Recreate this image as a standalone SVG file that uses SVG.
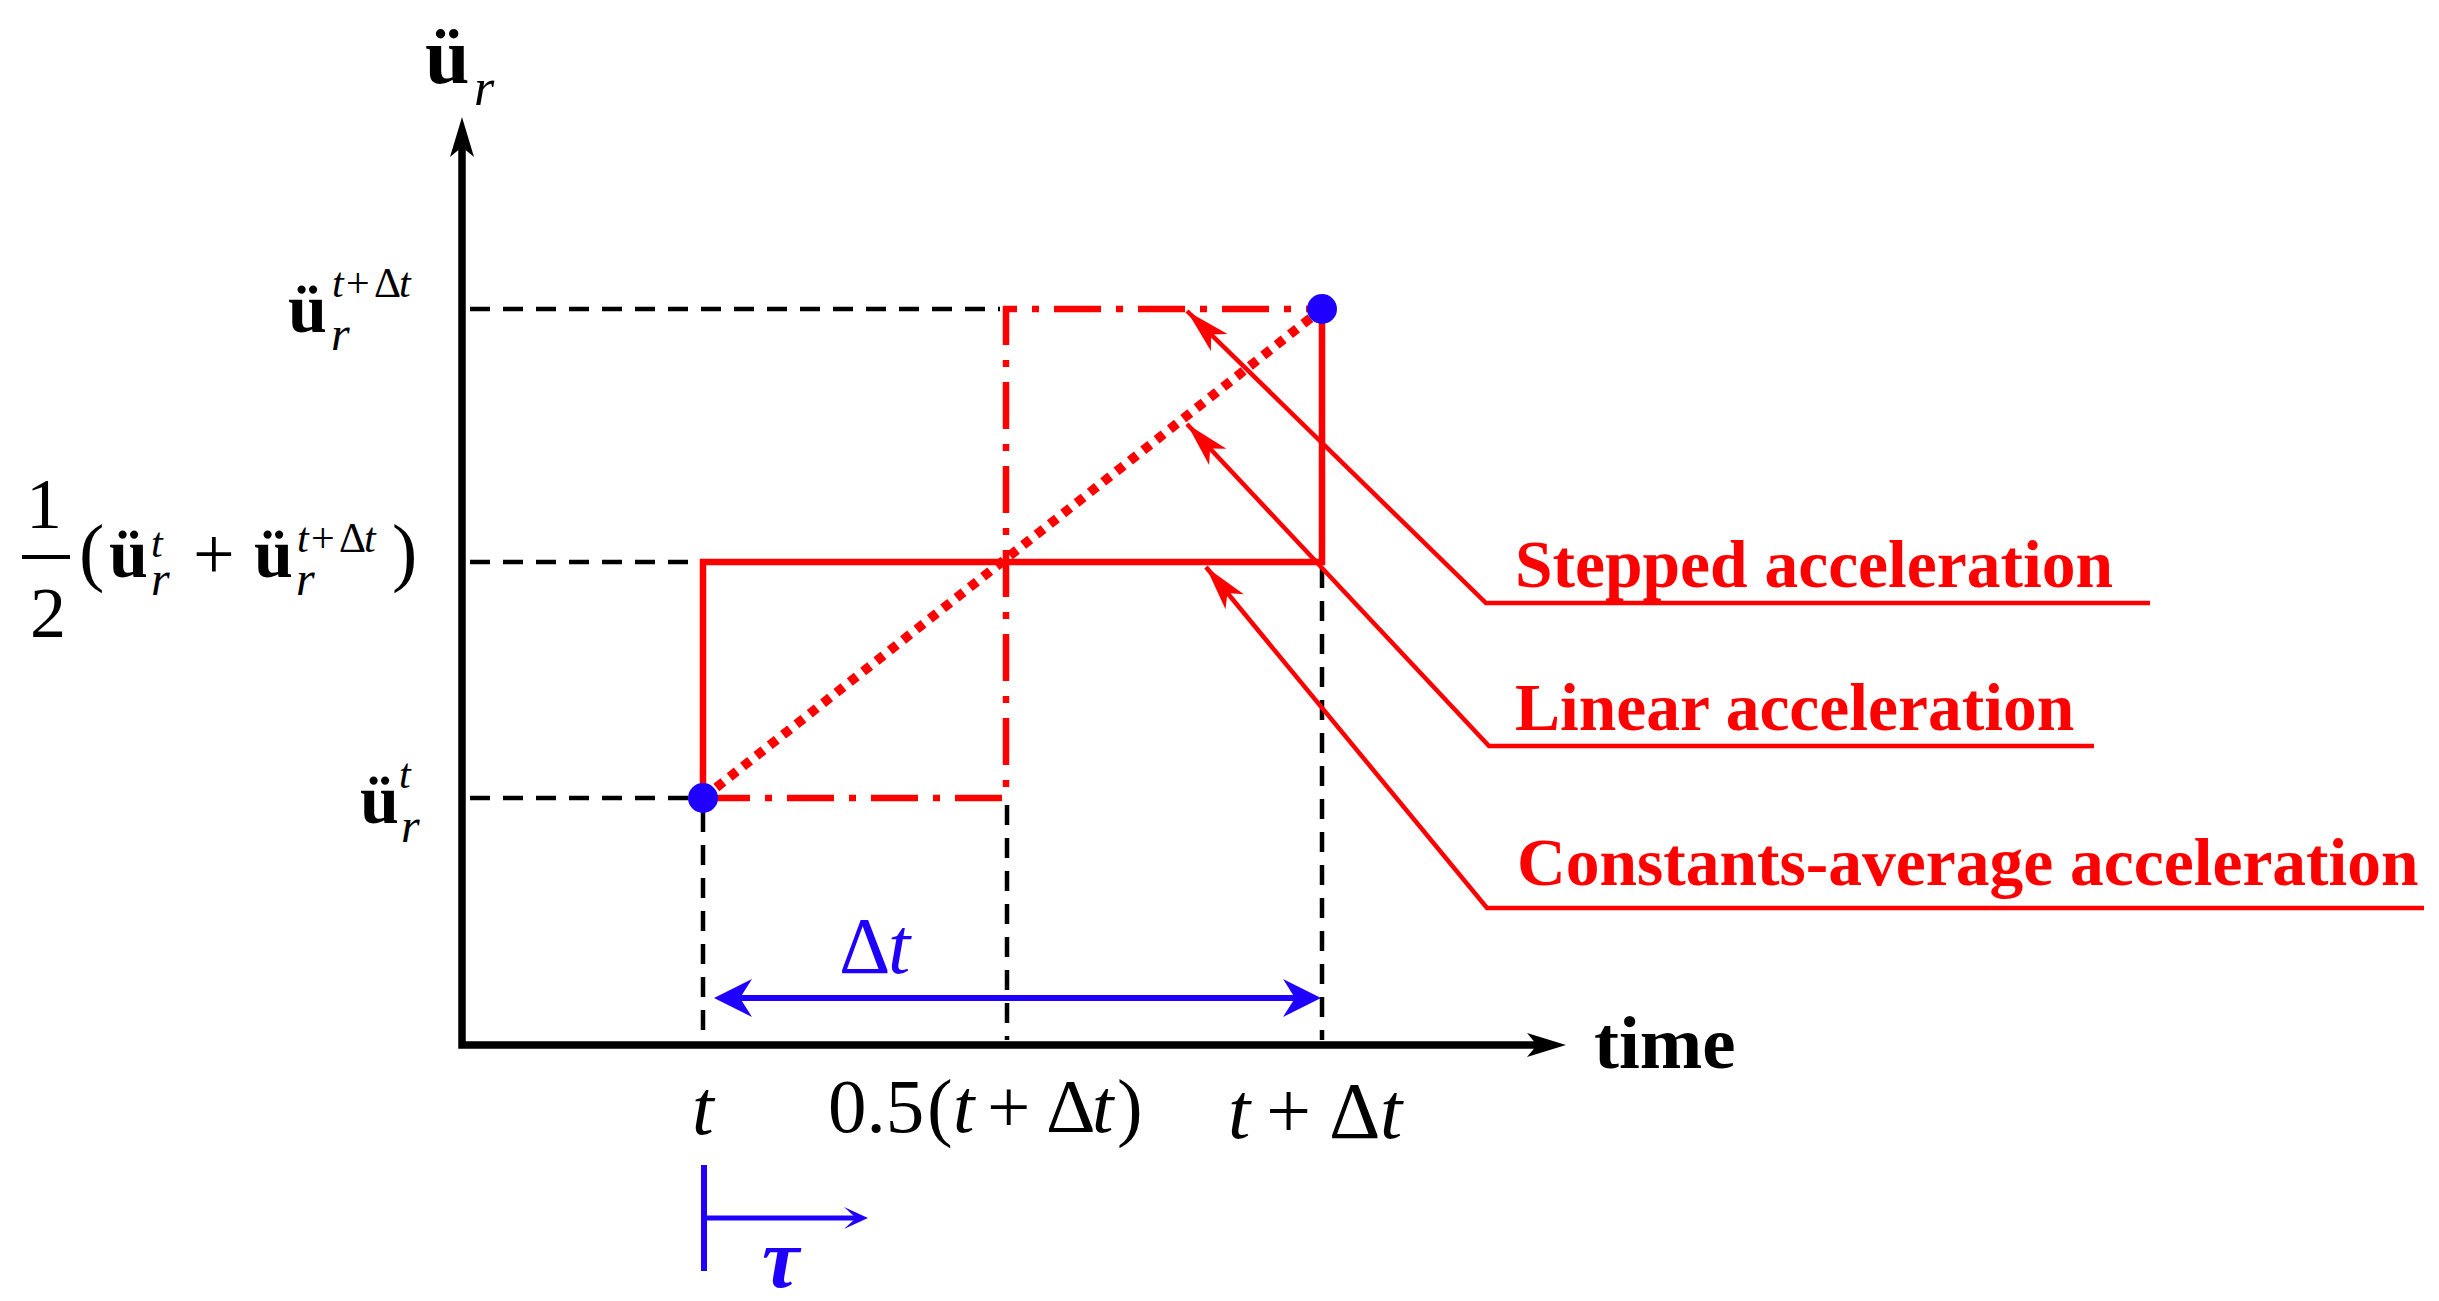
<svg xmlns="http://www.w3.org/2000/svg" width="2439" height="1301" viewBox="0 0 2439 1301">
<defs>
<style>
text{font-family:"Liberation Serif","Times New Roman",serif;}
.b{font-weight:bold;}
.i{font-style:italic;}
.blk{fill:#000;}
.red{fill:#ff0000;}
.blu{fill:#1f00ff;}
.dash{fill:none;stroke:#000;stroke-width:4.5;stroke-dasharray:20 13;}
.rsolid{fill:none;stroke:#ff0000;stroke-width:6.5;}
.rdd{fill:none;stroke:#ff0000;stroke-width:6.5;stroke-dasharray:47 15 7 15;}
.rdot{fill:none;stroke:#ff0000;stroke-width:9.5;stroke-dasharray:9 8;}
.lead{fill:none;stroke:#ff0000;stroke-width:4.5;marker-start:url(#redhead);}
.axis{fill:none;stroke:#000;stroke-width:7.5;}
</style>
<marker id="redhead" markerUnits="userSpaceOnUse" orient="auto-start-reverse" refX="0" refY="0" markerWidth="60" markerHeight="30" viewBox="-40 -12 44 24" overflow="visible">
<path d="M0,0 L-36,-9.5 L-27,0 L-36,9.5 Z" fill="#ff0000"/>
</marker>
</defs>
<rect width="2439" height="1301" fill="#fff"/>

<g id="connectors">
<!-- guide dashes -->
<path class="dash" d="M470,309 H1000"/>
<path class="dash" d="M470,562 H690"/>
<path class="dash" d="M470,798 H690"/>
<path class="dash" d="M703,812 V1040"/>
<path class="dash" d="M1007,805 V1040"/>
<path class="dash" d="M1322,568 V1040"/>
<!-- acceleration curves -->
<path class="rdd" d="M703,798 H1006 V309 H1322"/>
<path class="rsolid" d="M703,798 V562 H1322 V309"/>
<path class="rdot" d="M703,798 L1322,309"/>
<!-- axes -->
<path class="axis" d="M462,145 V1045 H1540"/>
<polygon points="462,117 474,157 462,147 450,157" fill="#000"/>
<polygon points="1566,1045 1527,1033 1537,1045 1527,1057" fill="#000"/>
<!-- leaders -->
<path class="lead" d="M1187,311 L1486,603 H2150"/>
<path class="lead" d="M1187,424 L1489,746 H2094"/>
<path class="lead" d="M1206,567 L1487,908 H2424"/>
<!-- delta t dimension -->
<path d="M740,998 H1295" stroke="#1f00ff" stroke-width="6" fill="none"/>
<polygon points="714,998 752,979 740,998 752,1017" fill="#1f00ff"/>
<polygon points="1321,998 1283,979 1295,998 1283,1017" fill="#1f00ff"/>
<!-- tau marker -->
<path d="M704,1165 V1271" stroke="#1f00ff" stroke-width="6" fill="none"/>
<path d="M704,1218 H856" stroke="#1f00ff" stroke-width="5" fill="none"/>
<polygon points="868,1218 844,1207 856,1218 844,1229" fill="#1f00ff"/>
</g>

<g id="point-start"><circle cx="703" cy="798" r="15" fill="#1f00ff"/></g>
<g id="point-end"><circle cx="1322" cy="309" r="15" fill="#1f00ff"/></g>

<g id="y-axis-label">
<text x="425" y="83" class="b blk" font-size="80">ü</text>
<text x="474" y="105" class="i blk" font-size="52">r</text>
</g>

<g id="label-u-tdt">
<text x="288" y="332" class="b blk" font-size="70">ü</text>
<text x="331" y="350" class="i blk" font-size="48">r</text>
<text y="297" font-size="42" class="blk"><tspan x="332" class="i">t</tspan><tspan x="346">+</tspan><tspan x="374">Δ</tspan><tspan x="399" class="i">t</tspan></text>
</g>

<g id="label-average">
<text x="44" y="528" text-anchor="middle" class="blk" font-size="72">1</text>
<line x1="22" y1="557" x2="70" y2="557" stroke="#000" stroke-width="4"/>
<text x="48" y="637" text-anchor="middle" class="blk" font-size="72">2</text>
<text x="79" y="577" class="blk" font-size="76">(</text>
<text x="109" y="577" class="b blk" font-size="70">ü</text>
<text x="151" y="557" class="i blk" font-size="42">t</text>
<text x="151" y="595" class="i blk" font-size="48">r</text>
<text x="193" y="579" class="blk" font-size="74">+</text>
<text x="254" y="577" class="b blk" font-size="70">ü</text>
<text x="296" y="595" class="i blk" font-size="48">r</text>
<text y="552" font-size="42" class="blk"><tspan x="297" class="i">t</tspan><tspan x="311">+</tspan><tspan x="339">Δ</tspan><tspan x="364" class="i">t</tspan></text>
<text x="392" y="577" class="blk" font-size="76">)</text>
</g>

<g id="label-u-t">
<text x="360" y="823" class="b blk" font-size="70">ü</text>
<text x="399" y="788" class="i blk" font-size="42">t</text>
<text x="401" y="842" class="i blk" font-size="48">r</text>
</g>

<g id="x-labels">
<text x="692" y="1134" class="i blk" font-size="78">t</text>
<text y="1132" font-size="77" class="blk"><tspan x="828">0.5</tspan><tspan x="927">(</tspan><tspan x="953" class="i">t</tspan><tspan x="987">+</tspan><tspan x="1046">Δ</tspan><tspan x="1092" class="i">t</tspan><tspan x="1117">)</tspan></text>
<text y="1138" font-size="80" class="blk"><tspan x="1228" class="i">t</tspan><tspan x="1266">+</tspan><tspan x="1329">Δ</tspan><tspan x="1380" class="i">t</tspan></text>
<text x="1594" y="1068" class="b blk" font-size="75">time</text>
</g>

<g id="label-dt">
<text y="973" font-size="80" class="blu"><tspan x="839">Δ</tspan><tspan x="888" class="i">t</tspan></text>
</g>
<g id="label-tau">
<text x="762" y="1287" class="b i blu" font-size="84">τ</text>
</g>

<g id="legend-stepped"><text x="1515" y="587" class="b red" font-size="67.5">Stepped acceleration</text></g>
<g id="legend-linear"><text x="1515" y="730" class="b red" font-size="67.5">Linear acceleration</text></g>
<g id="legend-constant"><text x="1517" y="885" class="b red" font-size="67.5">Constants-average acceleration</text></g>
</svg>
